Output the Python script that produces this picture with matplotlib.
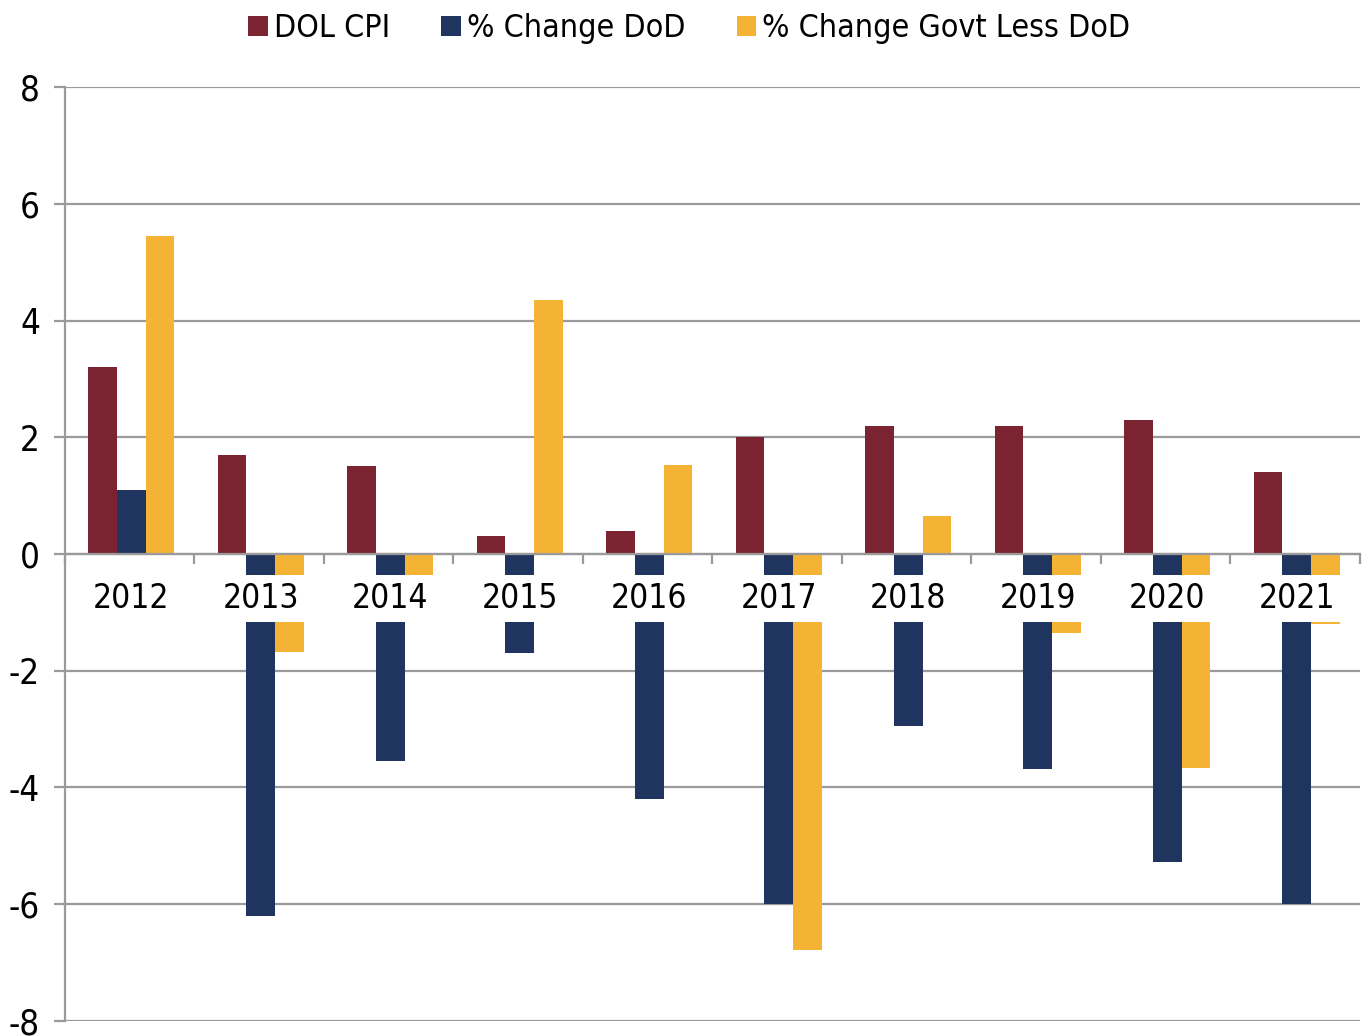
import matplotlib
matplotlib.use("Agg")
import matplotlib.pyplot as plt
import numpy as np

plt.rcParams['font.family'] = ['DejaVu Sans']
plt.rcParams['font.stretch'] = 'condensed'
plt.rcParams['axes.unicode_minus'] = False

years = ['2012', '2013', '2014', '2015', '2016', '2017', '2018', '2019', '2020', '2021']
dol_cpi = [3.2, 1.7, 1.5, 0.3, 0.4, 2.0, 2.2, 2.2, 2.3, 1.4]
chg_dod = [1.1, -6.2, -3.55, -1.7, -4.2, -6.0, -2.95, -3.68, -5.27, -6.0]
chg_govt = [5.45, -1.68, -0.57, 4.35, 1.52, -6.78, 0.65, -1.35, -3.66, -1.2]

series_names = ['DOL CPI', '% Change DoD', '% Change Govt Less DoD']
colors = ['#7B2330', '#1F3560', '#F5B335']
gray = '#9A9A9A'

fig = plt.figure(figsize=(13.65, 10.36), dpi=100)
ax = fig.add_axes([0.0476, 0.0145, 0.9487, 0.9015])

x = np.arange(len(years))
w = 0.222
for k, (vals, name, c) in enumerate(zip([dol_cpi, chg_dod, chg_govt], series_names, colors)):
    ax.bar(x + (k - 1) * w + 0.012, vals, width=w, color=c, label=name, zorder=3)

ax.set_xlim(-0.5, len(years) - 0.5)
ax.set_ylim(-8, 8)
ax.set_yticks(range(-8, 9, 2))
ax.yaxis.grid(True, color=gray, linewidth=1.6, zorder=0)
ax.set_axisbelow(True)

for s in ['top', 'right']:
    ax.spines[s].set_visible(False)
ax.spines['left'].set_color(gray)
ax.spines['left'].set_linewidth(1.6)
ax.spines['bottom'].set_position(('data', 0))
ax.spines['bottom'].set_color(gray)
ax.spines['bottom'].set_linewidth(1.6)
ax.spines['bottom'].set_zorder(4)

ax.set_xticks(np.arange(-0.5, len(years), 1.0))
ax.set_xticklabels([])
ax.tick_params(axis='x', length=7, width=1.6, color=gray, direction='out')
ax.tick_params(axis='y', length=8, width=1.6, color=gray, labelsize=25, pad=10)

for i, yr in enumerate(years):
    ax.text(i + 0.012, -0.76, yr, ha='center', va='center', fontsize=24, zorder=5,
            bbox=dict(facecolor='white', edgecolor='none', pad=5))

fig.legend(loc='upper center', bbox_to_anchor=(0.505, 1.006), ncol=3, frameon=False,
           fontsize=23, handlelength=0.6, handleheight=0.6, handletextpad=0.2,
           columnspacing=1.6, borderaxespad=0.2)

fig.savefig('out.png', dpi=100)
